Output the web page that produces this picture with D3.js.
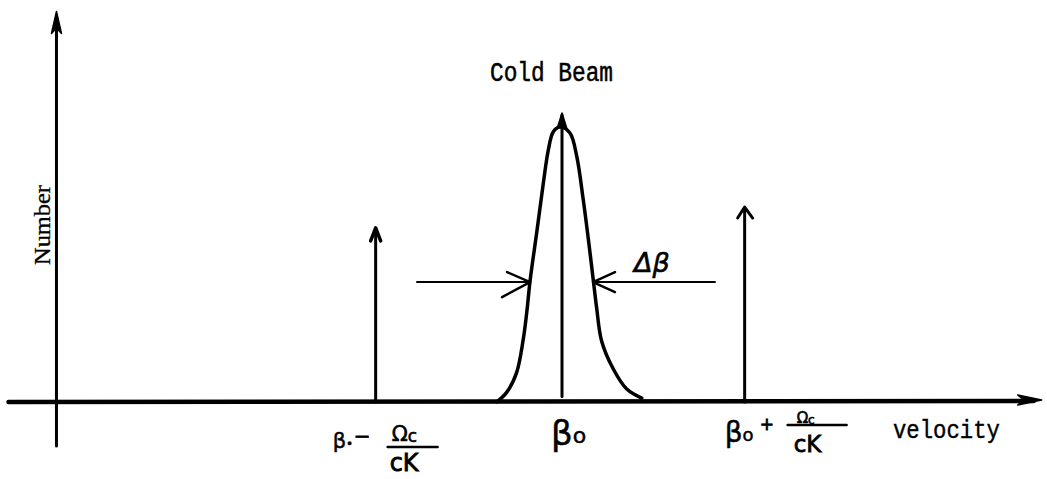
<!DOCTYPE html>
<html>
<head>
<meta charset="utf-8">
<script src="https://cdn.jsdelivr.net/npm/d3@7"></script>
<style>
  html, body { margin: 0; padding: 0; background: #fff; }
  svg { display: block; }
</style>
</head>
<body>
<svg id="chart" width="1047" height="479"></svg>
<script>
// ---------------- DATA ----------------
// velocity in units of Ωc/cK, centred on β0; number normalised to the beam peak
const tickValues = [-1.01, 0, 0.99];
const tickBase = ["β", "β", "β"];
const tickSub = ["•", "o", "o"];
const tickOps = ["−", "", "+"];
const tickNum = ["Ωc", "", "Ωc"];
const tickDen = ["cK", "", "cK"];

const stickVelocity = [-1.01, 0, 0.99];
const stickHeight = [0.633, 1.051, 0.709];

const beamVelocity = [-0.354, -0.300, -0.246, -0.210, -0.191, -0.173, -0.137, -0.101, -0.074, -0.047, -0.011,
                      0.043, 0.080, 0.115, 0.143, 0.170, 0.188, 0.215, 0.278, 0.351, 0.432];
const beamNumber   = [0.000, 0.035, 0.107, 0.228, 0.326, 0.441, 0.616, 0.797, 0.917, 0.983, 1.000,
                      0.978, 0.893, 0.736, 0.591, 0.441, 0.341, 0.221, 0.120, 0.047, 0.014];

const widthLevel = 0.436;
const widthArrowFrom = [-0.786, 0.829];
const widthArrowTo = [-0.173, 0.168];

const xAxisRange = [-3.0, 2.6];
const yAxisRange = [-0.16, 1.42];

const titleText = "Cold Beam";
const xLabel = "velocity";
const yLabel = "Number";
const widthLabel = "Δβ";

// ---------------- SCALES ----------------
const svg = d3.select("#chart");
const x = d3.scaleLinear().domain([0, 1]).range([562, 746.5]);
const y = d3.scaleLinear().domain([0, 1]).range([402, 127]);

const ink = "#000";

function filledHead(g, tx, ty, dir, len, half) {
  let pts;
  if (dir === "up") pts = [[tx, ty], [tx - half, ty + len], [tx, ty + len * 0.75], [tx + half, ty + len]];
  else pts = [[tx, ty], [tx - len, ty - half], [tx - len * 0.75, ty], [tx - len, ty + half]];
  g.append("path").attr("d", d3.line()(pts) + "Z").attr("fill", ink).attr("stroke", ink)
    .attr("stroke-width", 1.5).attr("stroke-linejoin", "round");
}
function openHead(g, tx, ty, dx1, dy1, dx2, dy2, w) {
  g.append("path")
    .attr("d", d3.line()([[tx + dx1, ty + dy1], [tx, ty], [tx + dx2, ty + dy2]]))
    .attr("fill", "none").attr("stroke", ink).attr("stroke-width", w)
    .attr("stroke-linecap", "round").attr("stroke-linejoin", "round");
}

const g = svg.append("g");

// ---------------- AXES ----------------
const yAxisX = x(-2.74);
g.append("line").attr("x1", yAxisX).attr("x2", yAxisX)
  .attr("y1", y(yAxisRange[0])).attr("y2", y(yAxisRange[1]) + 6)
  .attr("stroke", ink).attr("stroke-width", 3).attr("stroke-linecap", "round");
filledHead(g, yAxisX, y(yAxisRange[1]), "up", 22, 5);

g.append("line").attr("x1", x(xAxisRange[0])).attr("x2", x(xAxisRange[1]) - 8)
  .attr("y1", y(0)).attr("y2", y(0) - 1)
  .attr("stroke", ink).attr("stroke-width", 4.5).attr("stroke-linecap", "round");
filledHead(g, x(xAxisRange[1]), y(0) - 2, "right", 24, 5);

// ---------------- BEAM CURVE ----------------
const beam = beamVelocity.map((v, i) => [v, beamNumber[i]]);
g.append("path")
  .attr("d", d3.line().x(d => x(d[0])).y(d => y(d[1])).curve(d3.curveCatmullRom.alpha(0.5))(beam))
  .attr("fill", "none").attr("stroke", ink).attr("stroke-width", 3.5)
  .attr("stroke-linejoin", "round").attr("stroke-linecap", "round");

// ---------------- STICKS ----------------
stickVelocity.forEach((v, i) => {
  const sx = x(v), top = y(stickHeight[i]);
  const bottom = i === 1 ? y(0.02) : y(0);
  g.append("line").attr("x1", sx).attr("x2", sx).attr("y1", bottom).attr("y2", top + 2)
    .attr("stroke", ink).attr("stroke-width", 3).attr("stroke-linecap", "round");
  if (i === 1) filledHead(g, sx, top, "up", 16, 5);
  else if (i === 0) openHead(g, sx, top, -5, 13, 5, 13, 3.5);
  else openHead(g, sx, top, -7, 11, 8, 11, 3);
});

// ---------------- WIDTH ARROWS ----------------
widthArrowFrom.forEach((v, i) => {
  const yy = y(widthLevel);
  g.append("line").attr("x1", x(v)).attr("x2", x(widthArrowTo[i])).attr("y1", yy).attr("y2", yy)
    .attr("stroke", ink).attr("stroke-width", 2).attr("stroke-linecap", "round");
  if (i === 0) openHead(g, x(widthArrowTo[i]), yy, -23, -10, -28, 15, 2.5);
  else openHead(g, x(widthArrowTo[i]), yy, 22, -10, 22, 10, 2.5);
});
g.append("text").attr("x", x(widthArrowFrom[1]) - 81).attr("y", y(widthLevel) - 10)
  .attr("font-family", "DejaVu Sans").attr("font-style", "italic").attr("font-size", 27)
  .attr("fill", ink).attr("stroke", ink).attr("stroke-width", 0.6)
  .text(widthLabel);

// ---------------- TEXT LABELS ----------------
svg.append("text").attr("x", 490).attr("y", 81)
  .attr("font-family", "Liberation Mono").attr("font-size", 27)
  .attr("textLength", 123).attr("lengthAdjust", "spacingAndGlyphs")
  .attr("fill", ink).attr("stroke", ink).attr("stroke-width", 0.5).text(titleText);

svg.append("text").attr("x", 893).attr("y", 438)
  .attr("font-family", "Liberation Mono").attr("font-size", 26)
  .attr("textLength", 107).attr("lengthAdjust", "spacingAndGlyphs")
  .attr("fill", ink).attr("stroke", ink).attr("stroke-width", 0.4).text(xLabel);

svg.append("text").attr("transform", "translate(50,265) rotate(-90)")
  .attr("font-family", "Liberation Serif").attr("font-size", 23)
  .attr("textLength", 80).attr("lengthAdjust", "spacingAndGlyphs")
  .attr("fill", ink).attr("stroke", ink).attr("stroke-width", 0.3).text(yLabel);

// ---------------- TICK LABELS (hand-lettered) ----------------
function txt(parent, s, px, py, size, sw) {
  return parent.append("text").attr("x", px).attr("y", py).attr("font-size", size)
    .attr("font-family", "DejaVu Sans").attr("fill", ink).attr("stroke", ink)
    .attr("stroke-width", sw).text(s);
}
const layouts = [
  { b: [-43, 448, 21], s: [12, 0], op: [-22, 443, 20], n: [16, 441, 21], bar: [12, 62, 447], d: [14, 471, 24] },
  { b: [-11, 445, 34], s: [22, -2] },
  { b: [-20, 442, 28], s: [18, -1], op: [15, 430, 17], n: [52, 423, 15], bar: [43, 102, 425], d: [49, 452, 23] }
];
tickValues.forEach((v, i) => {
  const tx = x(v), L = layouts[i];
  const tg = svg.append("g");
  const t = txt(tg, tickBase[i], tx + L.b[0], L.b[1], L.b[2], 0.5);
  t.append("tspan").attr("font-size", L.s[0]).attr("dy", L.s[1]).text(tickSub[i]);
  if (tickOps[i]) txt(tg, tickOps[i], tx + L.op[0], L.op[1], L.op[2], 0.8);
  if (tickNum[i]) {
    const tn = txt(tg, tickNum[i][0], tx + L.n[0], L.n[1], L.n[2], 0.6);
    tn.append("tspan").attr("font-size", L.n[2] * 0.8).attr("dy", L.n[2] * 0.05).text(tickNum[i].slice(1));
    tg.append("line").attr("x1", tx + L.bar[0]).attr("x2", tx + L.bar[1]).attr("y1", L.bar[2]).attr("y2", L.bar[2])
      .attr("stroke", ink).attr("stroke-width", 2.5).attr("stroke-linecap", "round");
    txt(tg, tickDen[i], tx + L.d[0], L.d[1], L.d[2], 0.8);
  }
});
</script>
</body>
</html>
